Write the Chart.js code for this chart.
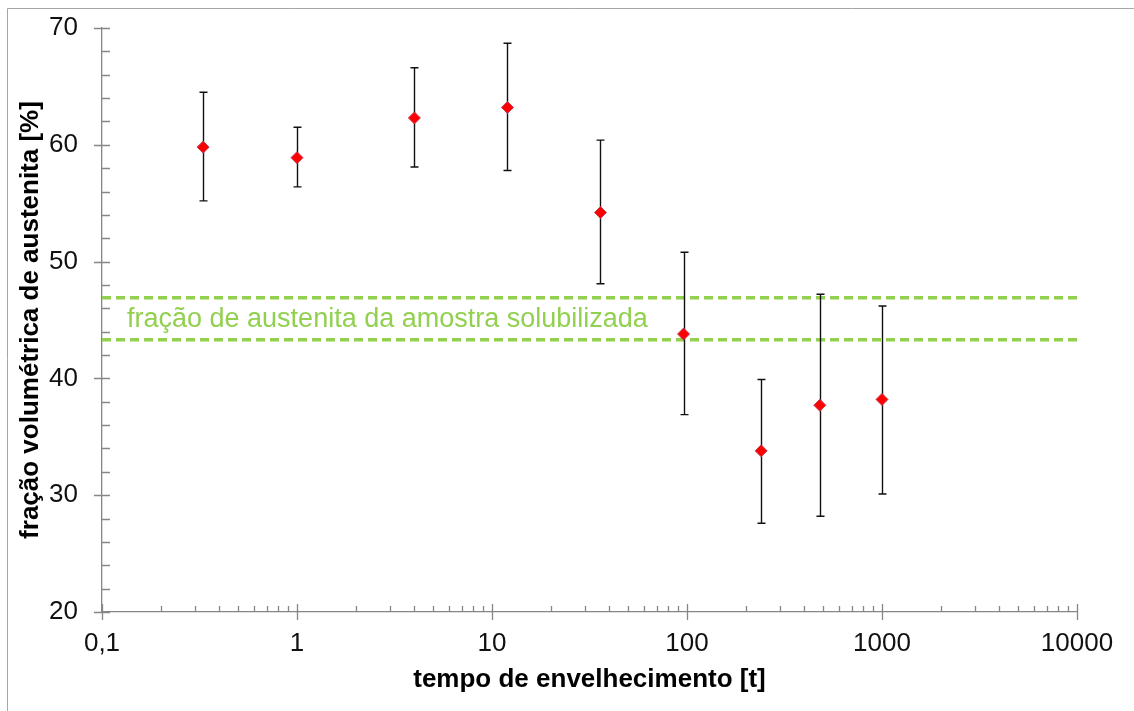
<!DOCTYPE html>
<html>
<head>
<meta charset="utf-8">
<script src="https://cdn.jsdelivr.net/npm/chart.js@4.4.0/dist/chart.umd.min.js"></script>
<style>
  html, body { margin: 0; padding: 0; background: #fff; }
  canvas { display: block; }
</style>
</head>
<body>
<canvas id="chart" width="1134" height="711"></canvas>
<script>
// dados
const times = [0.33, 1, 4, 12, 36, 96, 240, 480, 1000];
const fraction = [59.8, 58.9, 62.3, 63.2, 54.2, 43.8, 33.8, 37.7, 38.2];
const errHigh = [64.5, 61.5, 66.6, 68.7, 60.4, 50.8, 39.9, 47.2, 46.2];
const errLow = [55.2, 56.4, 58.1, 57.8, 48.1, 36.9, 27.6, 28.2, 30.1];
const refBand = [46.9, 43.3];
const refLabel = 'fração de austenita da amostra solubilizada';
const xRange = [0.1, 10000];
const yRange = [20, 70];

const AXIS = '#868686';
const GREEN = '#92d050';

function isDecade(v){
  const l = Math.log10(v);
  return Math.abs(l - Math.round(l)) < 1e-9;
}

// marcas de escala (maiores cruzam o eixo, menores para dentro)
const tickMarks = {
  id: 'tickMarks',
  afterDraw(chart){
    const ctx = chart.ctx;
    const area = chart.chartArea;
    const xs = chart.scales.x, ys = chart.scales.y;
    ctx.save();
    ctx.strokeStyle = AXIS;
    ctx.lineWidth = 1.3;
    ctx.beginPath();
    xs.ticks.forEach(t => {
      const px = Math.round(xs.getPixelForValue(t.value)) + 0.5;
      if (isDecade(t.value)) { ctx.moveTo(px, area.bottom - 8); ctx.lineTo(px, area.bottom + 8); }
      else { ctx.moveTo(px, area.bottom - 6); ctx.lineTo(px, area.bottom); }
    });
    ys.ticks.forEach(t => {
      const py = Math.round(ys.getPixelForValue(t.value)) + 0.5;
      if (t.value % 10 === 0) { ctx.moveTo(area.left - 8, py); ctx.lineTo(area.left + 8, py); }
      else { ctx.moveTo(area.left, py); ctx.lineTo(area.left + 8, py); }
    });
    ctx.stroke();
    ctx.restore();
  }
};

// barras de erro, desenhadas antes dos pontos
const errorBars = {
  id: 'errorBars',
  beforeDatasetDraw(chart, args){
    if (args.index !== 0) return;
    const ctx = chart.ctx;
    const xs = chart.scales.x, ys = chart.scales.y;
    ctx.save();
    ctx.strokeStyle = '#111';
    ctx.lineWidth = 1.4;
    ctx.beginPath();
    times.forEach((t, i) => {
      const px = Math.round(xs.getPixelForValue(t)) + 0.5;
      const top = ys.getPixelForValue(errHigh[i]);
      const bot = ys.getPixelForValue(errLow[i]);
      ctx.moveTo(px, top); ctx.lineTo(px, bot);
      ctx.moveTo(px - 4, top); ctx.lineTo(px + 4, top);
      ctx.moveTo(px - 4, bot); ctx.lineTo(px + 4, bot);
    });
    ctx.stroke();
    ctx.restore();
  }
};

// texto da faixa de referência e moldura
const decor = {
  id: 'decor',
  beforeDraw(chart){
    const ctx = chart.ctx;
    ctx.save();
    ctx.strokeStyle = '#a6a6a6';
    ctx.lineWidth = 1;
    ctx.beginPath();
    ctx.moveTo(7.5, chart.height); ctx.lineTo(7.5, 8.5); ctx.lineTo(chart.width, 8.5);
    ctx.stroke();
    ctx.restore();
  },
  afterDatasetsDraw(chart){
    const ctx = chart.ctx;
    const ys = chart.scales.y;
    const y = (ys.getPixelForValue(refBand[0]) + ys.getPixelForValue(refBand[1])) / 2;
    ctx.save();
    ctx.fillStyle = GREEN;
    ctx.font = '27px "Liberation Sans", Arial, sans-serif';
    ctx.textBaseline = 'middle';
    ctx.textAlign = 'left';
    ctx.fillText(refLabel, chart.chartArea.left + 25, y + 1);
    ctx.restore();
  }
};

const refDatasets = refBand.map(v => ({
  type: 'line',
  data: [{x: xRange[0], y: v}, {x: xRange[1], y: v}],
  borderColor: GREEN,
  borderWidth: 3.5,
  borderDash: [9, 5],
  pointRadius: 0,
  fill: false
}));

const tickFont = { family: '"Liberation Sans", Arial, sans-serif', size: 26 };
const titleFont = { family: '"Liberation Sans", Arial, sans-serif', size: 26, weight: 'bold' };

new Chart(document.getElementById('chart').getContext('2d'), {
  type: 'scatter',
  data: {
    datasets: [{
      data: times.map((t, i) => ({x: t, y: fraction[i]})),
      pointStyle: 'rectRot',
      pointRadius: 6,
      backgroundColor: '#ff0000',
      borderColor: '#c23a55',
      borderWidth: 1
    }].concat(refDatasets)
  },
  options: {
    responsive: false,
    animation: false,
    devicePixelRatio: 1,
    layout: { padding: { left: 10, right: 57, top: 28, bottom: 9 } },
    plugins: { legend: { display: false }, tooltip: { enabled: false } },
    scales: {
      x: {
        type: 'logarithmic',
        min: xRange[0], max: xRange[1],
        afterFit(s){ s.height = 90; s.paddingLeft = 0; s.paddingRight = 0; },
        afterBuildTicks(s){
          const ticks = [];
          for (let d = -1; d < 4; d++) for (let m = 1; m < 10; m++) ticks.push({value: m * Math.pow(10, d)});
          ticks.push({value: xRange[1]});
          s.ticks = ticks;
        },
        grid: { display: false },
        border: { display: true, color: AXIS, width: 1.3 },
        ticks: {
          autoSkip: false, maxRotation: 0, padding: 8, color: '#111', font: tickFont,
          callback: v => isDecade(v) ? String(Number(v.toPrecision(6))).replace('.', ',') : ''
        },
        title: { display: true, text: 'tempo de envelhecimento [t]', color: '#000', font: titleFont, padding: { top: 0, bottom: 7 } }
      },
      y: {
        min: yRange[0], max: yRange[1],
        afterFit(s){ s.width = 92; s.paddingTop = 0; s.paddingBottom = 0; },
        grid: { display: false },
        border: { display: true, color: AXIS, width: 1.3 },
        ticks: {
          stepSize: 2, autoSkip: false, padding: 16, color: '#111', font: tickFont,
          callback: v => v % 10 === 0 ? String(v) : ''
        },
        title: { display: true, text: 'fração volumétrica de austenita [%]', color: '#000', font: titleFont, padding: { top: 5, bottom: 0 } }
      }
    }
  },
  plugins: [decor, errorBars, tickMarks]
});
</script>
</body>
</html>
